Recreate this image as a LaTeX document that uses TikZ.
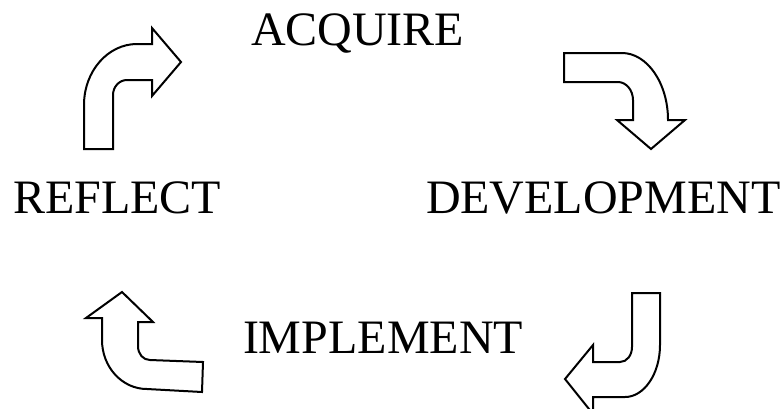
\documentclass[tikz,border=0pt]{standalone}
\usepackage{fontspec}
\setmainfont{Liberation Serif}

\begin{document}
\begin{tikzpicture}
            [x=1pt, y=-1pt, line width=2pt, line join=miter,
             stage/.style={inner sep=0pt, anchor=base west, font=\fontsize{48}{58}\selectfont},
             blockarrow/.style={draw=black, fill=white}]
            \useasboundingbox (0,0) rectangle (781,408);

            \node[stage] (acquire) at (250, 45) {ACQUIRE};
            \node[stage] (reflect) at (12, 213) {REFLECT};
            \node[stage] (develop) at (425, 213) {DEVELOPMENT};
            \node[stage] (implement) at (242, 353) {IMPLEMENT};

            % reflect -> acquire
            \path[blockarrow] (84,149) -- (84,105) .. controls (84,71) and (108,44) .. (137,44)
                -- (152,44) -- (152,28) -- (181,62) -- (152,96) -- (152,80) -- (127,80)
                .. controls (119,80) and (113,87) .. (113,95) -- (113,149) -- cycle;
            % acquire -> development
            \path[blockarrow] (564,53) -- (622,53) .. controls (647,53) and (668,83) .. (668,120)
                -- (685,120) -- (651,149) -- (617,120) -- (633,120) -- (633,100)
                .. controls (633,90) and (626,82) .. (618,82) -- (564,82) -- cycle;
            % development -> implement
            \path[blockarrow] (632,293) -- (660,293) -- (660,345) .. controls (660,374) and (644,397) .. (625,397)
                -- (593,397) -- (593,414) -- (565,379) -- (593,345) -- (593,362) -- (620,362)
                .. controls (627,362) and (632,355) .. (632,347) -- cycle;
            % implement -> reflect
            \path[blockarrow] (122,292) -- (153,322) -- (138,322) -- (138,346)
                .. controls (138,354) and (143,360) .. (150,360) -- (203,362) -- (202,392) -- (147,389)
                .. controls (122,389) and (102,367) .. (102,340) -- (102,318) -- (86,318) -- cycle;
        \end{tikzpicture}
\end{document}
